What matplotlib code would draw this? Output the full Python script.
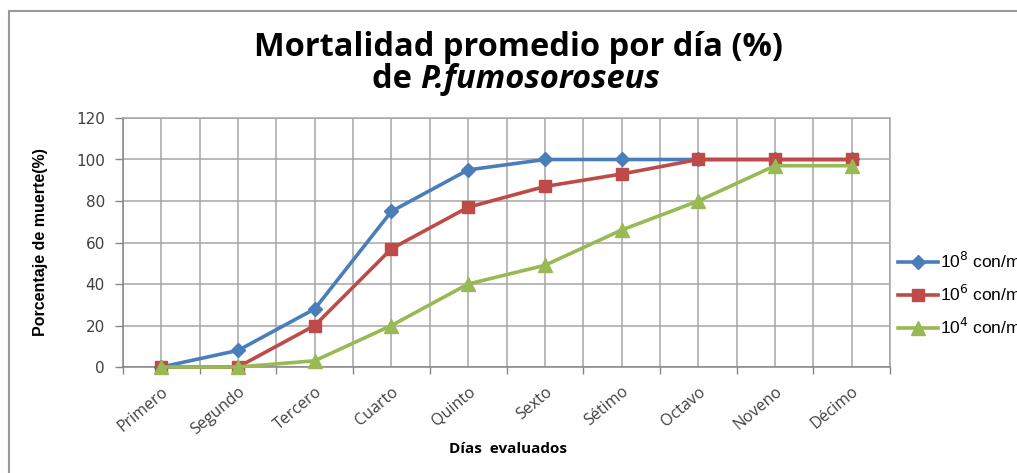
import matplotlib
matplotlib.use('Agg')
import matplotlib.pyplot as plt
from matplotlib.patches import Rectangle
from matplotlib.lines import Line2D

# --------- DATA ----------
DIAS = ["Primero", "Segundo", "Tercero", "Cuarto", "Quinto",
        "Sexto", "Sétimo", "Octavo", "Noveno", "Décimo"]
CONC_1E8 = [0, 8, 28, 75, 95, 100, 100, 100, 100, 100]
CONC_1E6 = [0, 0, 20, 57, 77, 87, 93, 100, 100, 100]
CONC_1E4 = [0, 0, 3, 20, 40, 49, 66, 80, 97, 97]
SERIES_LABELS = [r"10$^{8}$ con/ml", r"10$^{6}$ con/ml", r"10$^{4}$ con/ml"]
Y_TICKS = [0, 20, 40, 60, 80, 100, 120]
# --------------------------

W, H = 1017, 473
BLUE = "#4a7ebb"
RED = "#be4b48"
GREEN = "#98b954"
GRID = "#a6a6a6"
TXT = "#404040"

plt.rcParams['font.family'] = ['Open Sans', 'DejaVu Sans']

fig = plt.figure(figsize=(W / 100, H / 100), dpi=100)
ax = fig.add_axes([123 / W, 1 - 367 / H, (890 - 123) / W, (367 - 118) / H])

x = list(range(len(DIAS)))
styles = [(CONC_1E8, BLUE, 'D', 7.5), (CONC_1E6, RED, 's', 9), (CONC_1E4, GREEN, '^', 10)]
for (vals, col, mk, ms), lab in zip(styles, SERIES_LABELS):
    ax.plot(x, vals, color=col, lw=2.6, marker=mk, ms=ms, mec=col, mfc=col,
            label=lab, zorder=3, clip_on=False)

ax.set_xlim(-0.5, len(DIAS) - 0.5)
ax.set_ylim(0, 120)
ax.set_yticks(Y_TICKS)
ax.set_yticklabels([str(v) for v in Y_TICKS], fontsize=11, color=TXT,
                   family=['DejaVu Sans'])
ax.set_xticks(x)
ax.set_xticklabels(DIAS, rotation=40, ha='right', va='top',
                   rotation_mode='anchor', fontsize=11.5, color=TXT)
ax.set_xticks([i - 0.5 for i in range(len(DIAS) + 1)], minor=True)
ax.tick_params(axis='x', which='major', length=0, pad=12)
ax.tick_params(axis='x', which='minor', length=5, color='#868686', width=1)
ax.tick_params(axis='y', length=6, color='#868686', width=1, pad=7)

ax.grid(True, which='both', axis='x', color=GRID, lw=1.1, zorder=0)
ax.grid(True, which='major', axis='y', color=GRID, lw=1.1, zorder=0)
for side in ['left', 'bottom', 'top', 'right']:
    ax.spines[side].set_color(GRID)
    ax.spines[side].set_linewidth(1.1)
ax.spines['left'].set_color('#868686')
ax.spines['bottom'].set_color('#868686')

ax.set_ylabel("Porcentaje de muerte(%)", fontsize=11.5, fontweight='bold',
              family=['Liberation Sans Narrow', 'Liberation Sans'])
ax.yaxis.set_label_coords(-(123 - 48) / (890 - 123), 0.5)
fig.text(508 / W, 1 - 449 / H, "Días  evaluados", ha='center', va='center',
         fontsize=11, fontweight='bold', color='black')

# title
fig.text(518 / W, 1 - 56 / H, "Mortalidad promedio por día (%)", ha='center',
         va='baseline', fontsize=23.5, fontweight='bold')
t1 = fig.text(0, 1 - 88 / H, "de ", ha='left', va='baseline', fontsize=23.5,
              fontweight='bold')
t2 = fig.text(0, 1 - 88 / H, "P.fumosoroseus", ha='left', va='baseline',
              fontsize=23.5, fontweight='bold', style='italic')
r = fig.canvas.get_renderer()
w1 = t1.get_window_extent(r).width
w2 = t2.get_window_extent(r).width
x0 = 516 - (w1 + w2) / 2
t1.set_x(x0 / W)
t2.set_x((x0 + w1) / W)

# legend
handles = [Line2D([], [], color=c, lw=2.6, marker=m, ms=s, mec=c, mfc=c)
           for (_, c, m, s) in styles]
fig.legend(handles, SERIES_LABELS, loc='center left',
           bbox_to_anchor=(882 / W, 1 - 294 / H), frameon=False,
           handlelength=2.3, handletextpad=0.15, labelspacing=0.75,
           prop={'family': ['Liberation Sans'], 'size': 12.5})

# chart border
fig.add_artist(Rectangle((9 / W, -0.1), 1.2, 1 - 11 / H + 0.1,
                         transform=fig.transFigure, fill=False,
                         ec='#9a9a9a', lw=1.5))

fig.savefig("out.png", dpi=100)
